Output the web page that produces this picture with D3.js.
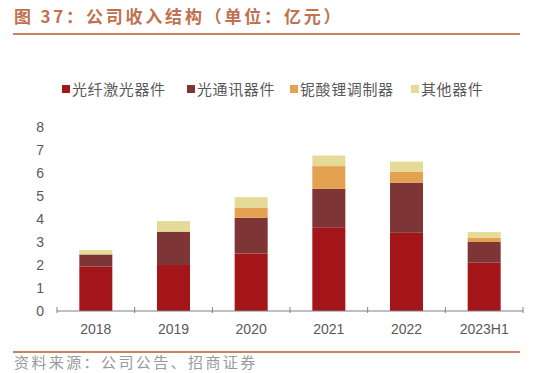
<!DOCTYPE html>
<html>
<head>
<meta charset="utf-8">
<script src="https://cdn.jsdelivr.net/npm/d3@7"></script>
<style>
  body { margin: 0; background: #fff; }
  svg { display: block; font-family: "Noto Sans CJK SC", "Noto Sans", sans-serif; }
</style>
</head>
<body>
<div id="chart"></div>
<script>
// chart size
var w = 550;
var h = 373;

// data
var years = ["2018", "2019", "2020", "2021", "2022", "2023H1"];
var seriesNames = ["光纤激光器件", "光通讯器件", "铌酸锂调制器", "其他器件"];
var laser = [1.93, 2.0, 2.5, 3.64, 3.4, 2.1];
var telecom = [0.53, 1.45, 1.55, 1.67, 2.17, 0.9];
var modulator = [0.0, 0.0, 0.45, 0.99, 0.48, 0.18];
var others = [0.19, 0.46, 0.45, 0.46, 0.44, 0.25];
var yTicks = [0, 1, 2, 3, 4, 5, 6, 7, 8];
var colors = ["#A31518", "#7E3535", "#E4A152", "#E6DA97"];

var table = years.map(function(y, i) {
    return {year: y, "光纤激光器件": laser[i], "光通讯器件": telecom[i],
            "铌酸锂调制器": modulator[i], "其他器件": others[i]};
});

var svg = d3.select("#chart").append("svg")
    .attr("width", w)
    .attr("height", h);

// title
svg.append("text")
    .attr("x", 14)
    .attr("y", 23)
    .attr("fill", "#C0714F")
    .style("font-size", "17px")
    .style("font-weight", "bold")
    .style("letter-spacing", "2.8px")
    .text("图 37：公司收入结构（单位：亿元）");

svg.append("line")
    .attr("x1", 13).attr("x2", 520)
    .attr("y1", 34).attr("y2", 34)
    .attr("stroke", "#C8825E")
    .attr("stroke-width", 2);

// scales
var xScale = d3.scaleBand()
    .domain(years)
    .range([57, 523])
    .paddingInner(0.575)
    .paddingOuter(0.2875);

var yScale = d3.scaleLinear()
    .domain([0, 8])
    .range([311, 127]);

var stack = d3.stack().keys(seriesNames);
var layers = stack(table);

svg.selectAll("g.layer")
    .data(layers)
    .enter()
    .append("g")
    .attr("class", "layer")
    .attr("fill", function(d, i) { return colors[i]; })
    .selectAll("rect")
    .data(function(d) { return d; })
    .enter()
    .append("rect")
    .attr("x", function(d) { return xScale(d.data.year); })
    .attr("y", function(d) { return yScale(d[1]); })
    .attr("width", xScale.bandwidth())
    .attr("height", function(d) { return yScale(d[0]) - yScale(d[1]); });

// y axis labels (no line)
var yAxis = d3.axisLeft(yScale).tickValues(yTicks).tickSize(0).tickPadding(0);
var gy = svg.append("g")
    .attr("transform", "translate(44,0)")
    .call(yAxis);
gy.select(".domain").remove();
gy.selectAll("text")
    .attr("fill", "#595959")
    .style("font-size", "14px")
    .style("font-family", "Liberation Sans, Arial, sans-serif");

// x axis
var gx = svg.append("g").attr("transform", "translate(0,311)");
gx.append("line")
    .attr("x1", 57).attr("x2", 523)
    .attr("stroke", "#808080");
var bounds = years.map(function(y) { return xScale(y) - xScale.step() * xScale.paddingInner() / 2; });
bounds.push(523);
gx.selectAll("line.tick")
    .data(bounds)
    .enter()
    .append("line")
    .attr("class", "tick")
    .attr("x1", function(d) { return d; })
    .attr("x2", function(d) { return d; })
    .attr("y1", -4).attr("y2", 2)
    .attr("stroke", "#808080");
gx.selectAll("text")
    .data(years)
    .enter()
    .append("text")
    .attr("x", function(d) { return xScale(d) + xScale.bandwidth() / 2; })
    .attr("y", 23)
    .attr("text-anchor", "middle")
    .attr("fill", "#595959")
    .style("font-size", "14px")
    .style("font-family", "Liberation Sans, Arial, sans-serif")
    .text(function(d) { return d; });

// legend
var legendX = [62, 187, 290, 411];
var lg = svg.selectAll("g.legend")
    .data(seriesNames)
    .enter()
    .append("g")
    .attr("class", "legend")
    .attr("transform", function(d, i) { return "translate(" + legendX[i] + ",90)"; });
lg.append("rect")
    .attr("x", 0).attr("y", -5)
    .attr("width", 8).attr("height", 8)
    .attr("fill", function(d, i) { return colors[i]; });
lg.append("text")
    .attr("x", 10)
    .attr("y", 5)
    .attr("fill", "#595959")
    .style("font-size", "15px")
    .style("letter-spacing", "0.6px")
    .text(function(d) { return d; });

// footer
svg.append("line")
    .attr("x1", 13).attr("x2", 520)
    .attr("y1", 352).attr("y2", 352)
    .attr("stroke", "#C8825E")
    .attr("stroke-width", 2);

svg.append("text")
    .attr("x", 14)
    .attr("y", 368)
    .attr("fill", "#999999")
    .style("font-size", "15px")
    .style("letter-spacing", "2.4px")
    .text("资料来源：公司公告、招商证券");
</script>
</body>
</html>
